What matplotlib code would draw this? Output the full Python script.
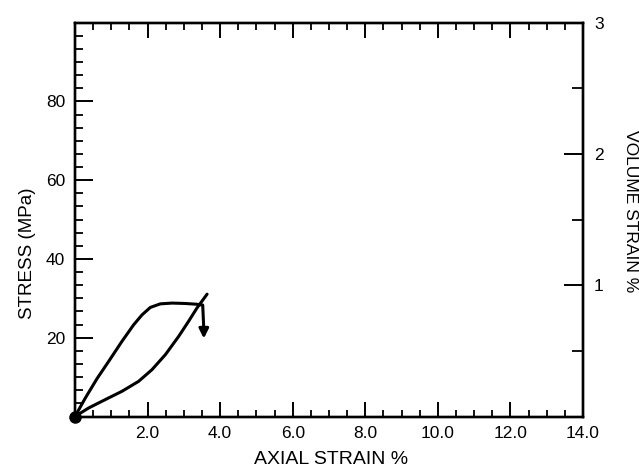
import matplotlib
matplotlib.use("Agg")
import matplotlib.pyplot as plt
from matplotlib.ticker import FixedLocator, MultipleLocator

plt.rcParams['font.family'] = ['Liberation Sans', 'DejaVu Sans']

# Stress-strain curve (loading, then drop at failure)
axial_stress_curve = [0.0, 0.285, 0.606, 0.928, 1.295, 1.617, 1.846, 2.076, 2.351, 2.673, 3.04, 3.36, 3.52, 3.55]
stress_mpa = [0.0, 4.7, 9.6, 14.0, 19.1, 23.3, 25.8, 27.7, 28.6, 28.8, 28.7, 28.5, 28.3, 22.0]
arrow_tip_stress = 19.8

# Volume strain curve (right axis)
axial_volume_curve = [0.0, 0.377, 0.836, 1.295, 1.754, 2.122, 2.49, 2.856, 3.13, 3.36, 3.64]
volume_strain = [0.0, 0.065, 0.129, 0.192, 0.268, 0.357, 0.471, 0.610, 0.725, 0.826, 0.932]

x_major = [2, 4, 6, 8, 10, 12, 14]
x_labels = ["2.0", "4.0", "6.0", "8.0", "10.0", "12.0", "14.0"]
y_major = [20, 40, 60, 80]
y_labels = ["20", "40", "60", "80"]
v_major = [1, 2, 3]
v_labels = ["1", "2", "3"]

W, H = 639, 471
fig = plt.figure(figsize=(W / 100, H / 100), dpi=100)
L, R, T, B = 75, 583, 22.7, 416.5
ax = fig.add_axes([L / W, 1 - B / H, (R - L) / W, (B - T) / H])
ax2 = ax.twinx()

lw = 2.2
ax.plot(axial_stress_curve, stress_mpa, color='black', lw=lw, solid_joinstyle='round', solid_capstyle='round')
ax.annotate('', xy=(axial_stress_curve[-1], arrow_tip_stress),
            xytext=(axial_stress_curve[-1], stress_mpa[-1] + 0.5),
            arrowprops=dict(arrowstyle='-|>', color='black', lw=lw, mutation_scale=14,
                            shrinkA=0, shrinkB=0))
ax2.plot(axial_volume_curve, volume_strain, color='black', lw=lw, solid_joinstyle='round', solid_capstyle='round')
ax.plot([0], [0], 'o', color='black', ms=8, clip_on=False, zorder=6)

ax.set_xlim(0, 14)
ax.set_ylim(0, 100)
ax2.set_ylim(0, 3)

for a in (ax, ax2):
    for s in a.spines.values():
        s.set_linewidth(1.7)

ax.xaxis.set_major_locator(FixedLocator(x_major))
ax.set_xticklabels(x_labels)
ax.xaxis.set_minor_locator(MultipleLocator(0.5))
ax.yaxis.set_major_locator(FixedLocator(y_major))
ax.set_yticklabels(y_labels)
ax.yaxis.set_minor_locator(MultipleLocator(10 / 3))

ax.tick_params(axis='x', which='major', direction='in', top=True, bottom=True,
               length=11, width=1.4, pad=7, labelsize=12.5)
ax.tick_params(axis='x', which='minor', direction='in', top=True, bottom=True,
               length=5, width=1.3)
ax.tick_params(axis='y', which='major', direction='in', left=True, right=False,
               length=13, width=1.4, pad=7, labelsize=12.5)
ax.tick_params(axis='y', which='minor', direction='in', left=True, right=False,
               length=6, width=1.3)

ax2.yaxis.set_major_locator(FixedLocator(v_major))
ax2.set_yticklabels(v_labels)
ax2.yaxis.set_minor_locator(MultipleLocator(0.5))
ax2.tick_params(axis='y', which='major', direction='in', right=True, left=False,
                length=13.5, width=1.4, pad=8, labelsize=12.5)
ax2.tick_params(axis='y', which='minor', direction='in', right=True, left=False,
                length=8, width=1.3)

fig.text(331 / W, 1 - 459 / H, "AXIAL STRAIN %", ha='center', va='center', fontsize=14)
fig.text(28 / W, 1 - 253 / H, "STRESS (MPa)", ha='center', va='center', fontsize=13.5, rotation=90)
fig.text(630 / W, 1 - 211 / H, "VOLUME STRAIN %", ha='center', va='center', fontsize=12.5, rotation=-90)

fig.savefig("out.png", dpi=100)
